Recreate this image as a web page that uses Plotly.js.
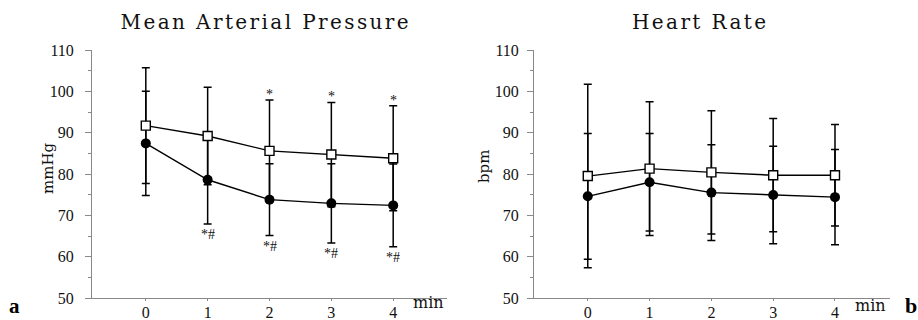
<!DOCTYPE html>
<html>
<head>
<meta charset="utf-8">
<script src="https://cdn.plot.ly/plotly-3.0.1.min.js"></script>
<style>
html,body{margin:0;padding:0;background:#fff;}
#chart{width:918px;height:320px;}
</style>
</head>
<body>
<div id="chart"></div>
<script>
// ---- data ----
const minutes = [0, 1, 2, 3, 4];
const tickLabelsY = [50, 60, 70, 80, 90, 100, 110];

const mapSquare = [91.7, 89.2, 85.6, 84.7, 83.8];
const mapSquareSd = [14.0, 11.8, 12.3, 12.6, 12.7];
const mapCircle = [87.4, 78.6, 73.8, 72.9, 72.4];
const mapCircleSd = [12.6, 10.7, 8.7, 9.6, 10.0];

const hrSquare = [79.5, 81.3, 80.4, 79.7, 79.7];
const hrSquareSd = [22.2, 16.2, 14.9, 13.7, 12.3];
const hrCircle = [74.6, 78.0, 75.5, 74.9, 74.4];
const hrCircleSd = [15.2, 11.8, 11.6, 11.8, 11.5];

const mapSquareSig = ['', '', '*', '*', '*'];
const mapCircleSig = ['', '*#', '*#', '*#', '*#'];

const titles = ['Mean Arterial Pressure', 'Heart Rate'];
const yTitles = ['mmHg', 'bpm'];
const xTitle = 'min';
const panelLetters = ['a', 'b'];

// ---- build traces ----
const serif = 'Liberation Serif, Times New Roman, serif';
const dvs = 'DejaVu Serif, serif';

function errTrace(y, sd, xa, ya) {
  return {
    x: minutes, y: y, xaxis: xa, yaxis: ya, type: 'scatter', mode: 'lines',
    line: {color: 'rgba(0,0,0,0)', width: 0}, hoverinfo: 'skip', showlegend: false,
    error_y: {type: 'data', array: sd, visible: true, color: '#000', thickness: 1.5, width: 4}
  };
}
function lineTrace(y, xa, ya, sym) {
  return {
    x: minutes, y: y, xaxis: xa, yaxis: ya, type: 'scatter', mode: 'lines+markers',
    line: {color: '#000', width: 1.4}, showlegend: false,
    marker: sym === 'square'
      ? {symbol: 'square', size: 9, color: '#fff', line: {color: '#000', width: 1.4}}
      : {symbol: 'circle', size: 10, color: '#000', line: {color: '#000', width: 0}}
  };
}

const traces = [
  errTrace(mapCircle, mapCircleSd, 'x', 'y'),
  errTrace(mapSquare, mapSquareSd, 'x', 'y'),
  errTrace(hrCircle, hrCircleSd, 'x2', 'y2'),
  errTrace(hrSquare, hrSquareSd, 'x2', 'y2'),
  lineTrace(mapCircle, 'x', 'y', 'circle'),
  lineTrace(mapSquare, 'x', 'y', 'square'),
  lineTrace(hrCircle, 'x2', 'y2', 'circle'),
  lineTrace(hrSquare, 'x2', 'y2', 'square')
];

// ---- annotations ----
const ann = [];
minutes.forEach((m, i) => {
  if (mapSquareSig[i]) ann.push({x: m, y: mapSquare[i] + mapSquareSd[i], xref: 'x', yref: 'y',
    text: mapSquareSig[i], showarrow: false, xanchor: 'center', yanchor: 'bottom', yshift: -4,
    font: {family: serif, size: 14, color: '#111'}});
  if (mapCircleSig[i]) ann.push({x: m, y: mapCircle[i] - mapCircleSd[i], xref: 'x', yref: 'y',
    text: mapCircleSig[i], showarrow: false, xanchor: 'center', yanchor: 'top', yshift: -1,
    font: {family: serif, size: 14, color: '#111'}});
});
const W = 918, plotTop = 50, plotBot = 298, plotH = plotBot - plotTop;
const px = p => p / W;
const py = p => (plotBot - p) / plotH;
function paperText(text, cx, cy, font, extra) {
  return Object.assign({text: text, xref: 'paper', yref: 'paper', x: px(cx), y: py(cy),
    xanchor: 'center', yanchor: 'middle', showarrow: false, font: font}, extra || {});
}
ann.push(paperText(titles[0], 266, 22, {family: dvs, size: 20, color: '#111'}));
ann.push(paperText(titles[1], 700, 22, {family: dvs, size: 20, color: '#111'}));
ann.push(paperText(yTitles[0], 48, 168, {family: dvs, size: 15, color: '#111'}, {textangle: -90}));
ann.push(paperText(yTitles[1], 484, 167, {family: dvs, size: 15, color: '#111'}, {textangle: -90}));
ann.push(paperText(xTitle, 428, 302, {family: dvs, size: 16, color: '#111'}));
ann.push(paperText(xTitle, 870, 305, {family: dvs, size: 16, color: '#111'}));
ann.push(paperText('<b>' + panelLetters[0] + '</b>', 14, 319.5, {family: serif, size: 21, color: '#000'}, {yanchor: 'bottom'}));
ann.push(paperText('<b>' + panelLetters[1] + '</b>', 911, 305, {family: serif, size: 22, color: '#000'}));

// ---- axes ----
function xAxis(dom, rng) {
  return {domain: dom, range: rng, tickvals: minutes, ticktext: minutes.map(String),
    showline: true, linecolor: '#888', linewidth: 1, ticks: 'outside', ticklen: 2, tickcolor: '#888',
    showgrid: false, zeroline: false, fixedrange: true, ticklabelstandoff: -2,
    tickfont: {family: serif, size: 16, color: '#111'}};
}
function yAxis(anchor, standoff) {
  return {anchor: anchor, domain: [0, 1], range: [50, 110], tickvals: tickLabelsY, ticktext: tickLabelsY.map(String),
    showline: true, linecolor: '#888', linewidth: 1, ticks: 'outside', ticklen: 6, tickcolor: '#888',
    minor: {dtick: 5, tick0: 50, ticks: 'outside', ticklen: 3, tickcolor: '#888', showgrid: false},
    showgrid: false, zeroline: false, fixedrange: true, ticklabelstandoff: standoff,
    tickfont: {family: serif, size: 16, color: '#111'}};
}

const layout = {
  width: 918, height: 320,
  margin: {l: 0, r: 0, t: plotTop, b: 320 - plotBot},
  paper_bgcolor: '#fff', plot_bgcolor: '#fff',
  showlegend: false,
  xaxis: Object.assign(xAxis([px(92), px(447)], [-0.87, 4.87]), {anchor: 'y'}),
  yaxis: yAxis('x', 8),
  xaxis2: Object.assign(xAxis([px(534), px(890)], [-0.87, 4.89]), {anchor: 'y2'}),
  yaxis2: yAxis('x2', 5),
  annotations: ann
};

Plotly.newPlot('chart', traces, layout, {staticPlot: true, displayModeBar: false}).then(() => {
  document.querySelectorAll('.annotation-text').forEach(t => {
    if (titles.includes(t.textContent)) t.style.letterSpacing = '2.4px';
  });
});
</script>
</body>
</html>
